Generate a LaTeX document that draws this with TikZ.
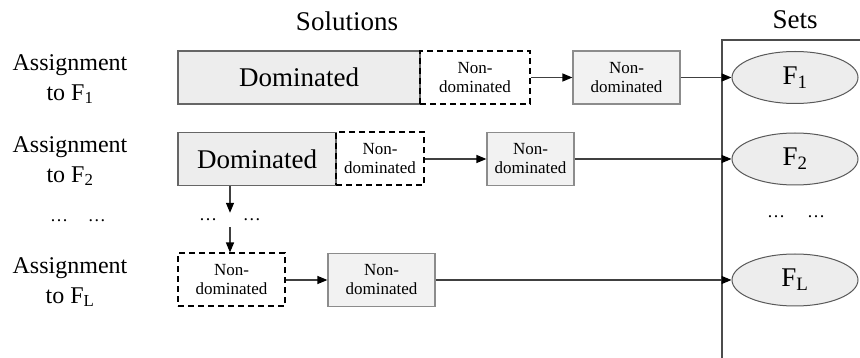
\documentclass[tikz,border=0pt]{standalone}
\usepackage{fontspec}
\setmainfont{Liberation Serif}
\usetikzlibrary{arrows.meta}
\usetikzlibrary{shapes}

\begin{document}
\begin{tikzpicture}[x=1pt,y=-1pt,
  dombox/.style={draw=black!60, fill=black!7, line width=1.2pt, minimum height=53pt, inner sep=0pt, font=\fontsize{27}{30}\selectfont},
  ndbox/.style={draw=black, dash pattern=on 6pt off 4pt, line width=2pt, minimum height=53pt, inner sep=0pt, align=center, font=\fontsize{17}{19}\selectfont},
  setbox/.style={draw=black!45, fill=black!5, line width=1.2pt, minimum width=107pt, minimum height=53pt, inner sep=0pt, align=center, font=\fontsize{17}{19}\selectfont},
  fset/.style={ellipse, draw=black!65, fill=black!7, line width=1pt, minimum width=126pt, minimum height=52pt, inner sep=0pt, font=\fontsize{27}{30}\selectfont},
  lab/.style={align=center, font=\fontsize{24}{30}\selectfont},
  dotrow/.style={font=\fontsize{18}{20}\selectfont, inner sep=0pt, minimum height=14pt},
  link/.style={draw=black!75, line width=1.2pt, -{Triangle[length=10pt,width=8pt,color=black]}}]
\useasboundingbox (0,0) rectangle (860,358);
% titles
\node[font=\fontsize{27}{30}\selectfont] (sol) at (347,21) {Solutions};
\node[font=\fontsize{27}{30}\selectfont] (sets) at (795,20) {Sets};
% the sets frame
\draw[draw=black!70, line width=1.2pt] (722,358) |- (860,40);
%     1st row
\node[lab] (a1) at (70,79) {Assignment\\to F\textsubscript{1}};
\node[dombox, minimum width=242pt] (dom1) at (299,77.5) {Dominated};
\node[ndbox, minimum width=110pt] (nd1) at (475,77.5) {Non-\\dominated};
\node[setbox] (g1) at (626.5,77.5) {Non-\\dominated};
\node[fset] (f1) at (795,77.5) {F\textsubscript{1}};
%     2nd row
\node[lab] (a2) at (70,161) {Assignment\\to F\textsubscript{2}};
\node[dombox, minimum width=158pt] (dom2) at (257,159) {Dominated};
\node[ndbox, minimum width=88pt] (nd2) at (380,159) {Non-\\dominated};
\node[setbox, minimum width=87pt] (g2) at (530.5,159) {Non-\\dominated};
\node[fset] (f2) at (795,159) {F\textsubscript{2}};
%     dots
\node[dotrow] (ldots) at (78,221) {\ldots\hspace{20pt}\ldots};
\node[dotrow] (mdots) at (230,220) {\ldots\hspace{26pt}\ldots};
\node[dotrow] (rdots) at (796,217) {\ldots\hspace{22pt}\ldots};
%     last row
\node[lab] (aL) at (70,282) {Assignment\\to F\textsubscript{L}};
\node[ndbox, minimum width=107pt] (ndL) at (231.5,280) {Non-\\dominated};
\node[setbox] (gL) at (381.5,280) {Non-\\dominated};
\node[fset] (fL) at (795,280) {F\textsubscript{L}};
% arrows
\draw[link] (nd1) -- (g1);
\draw[link] (g1) -- (f1);
\draw[link] (nd2) -- (g2);
\draw[link] (g2) -- (f2);
\draw[link] (dom2.south -| mdots) -- (mdots.north);
\draw[link] (mdots.south) -- (ndL.north -| mdots);
\draw[link] (ndL) -- (gL);
\draw[link] (gL) -- (fL);
\end{tikzpicture}
\end{document}
